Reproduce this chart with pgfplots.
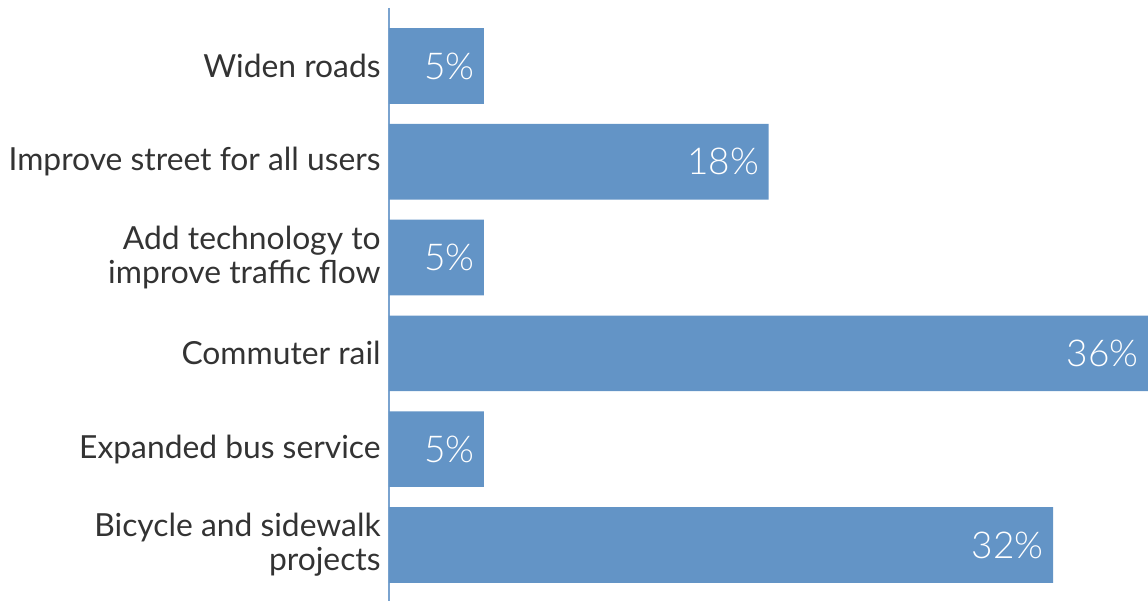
\documentclass[border=0pt]{standalone}
\usepackage{pgfplots}
\pgfplotsset{compat=1.18}
\usepackage{pgfplotstable}
\usepackage{fontspec}
\setmainfont{Lato}
\newfontfamily\lightfont{Lato Light}
\definecolor{barblue}{HTML}{6394C6}
\definecolor{axblue}{HTML}{7AA3CF}
\definecolor{txt}{HTML}{333333}
\pgfplotstableread{
y val lab
0 4.5 5\%
1 18 18\%
2 4.5 5\%
3 36 36\%
4 4.5 5\%
5 31.5 32\%
}\datatab
\begin{document}
\begin{tikzpicture}
\begin{axis}[
  name=ax,
  scale only axis,
  width=379.5pt, height=296.5pt,
  xmin=0, xmax=36,
  ymin=-0.605, ymax=5.585,
  y dir=reverse,
  axis x line=none,
  axis y line*=left,
  y axis line style={axblue, line width=0.8pt, -},
  ytick={0,1,2,3,4,5},
  yticklabels={Widen roads, Improve street for all users, {Add technology to\\improve traffic flow}, Commuter rail, Expanded bus service, {Bicycle and sidewalk\\projects}},
  yticklabel style={align=right, font=\fontsize{15.9}{17.2}\selectfont, text=txt, inner sep=0pt, xshift=-4pt},
  major tick length=0pt,
  clip=false,
]
\addplot[xbar, bar width=0.79, fill=barblue, draw=none,
  point meta=explicit symbolic,
  nodes near coords,
  every node near coord/.append style={anchor=east, xshift=-4.5pt, inner sep=0pt, text=white, font=\lightfont\fontsize{18.5}{20}\selectfont},
] table[x=val, y=y, meta=lab] {\datatab};
\end{axis}
\pgfresetboundingbox
\path ([xshift=-194.5pt]ax.south west) rectangle ([yshift=4pt]ax.north east);
\end{tikzpicture}
\end{document}
